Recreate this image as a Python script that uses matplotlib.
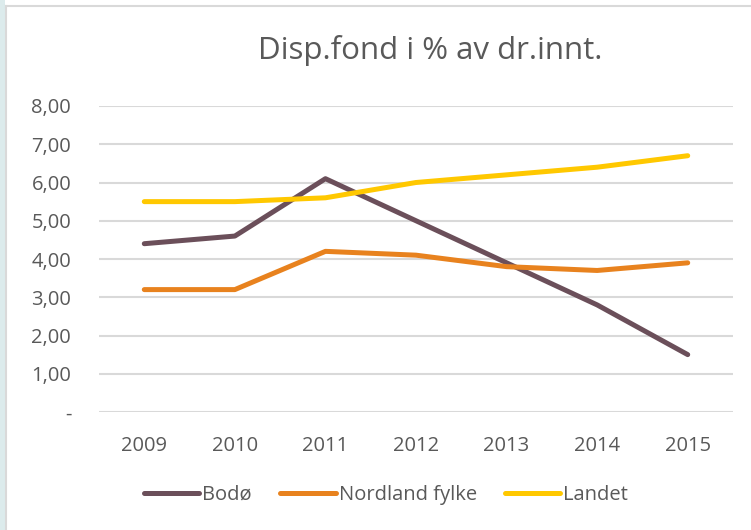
import matplotlib.pyplot as plt
from matplotlib.lines import Line2D
from matplotlib.patches import Rectangle

years = ['2009', '2010', '2011', '2012', '2013', '2014', '2015']
bodo = [4.4, 4.6, 6.1, 5.0, 3.9, 2.8, 1.5]
nordland = [3.2, 3.2, 4.2, 4.1, 3.8, 3.7, 3.9]
landet = [5.5, 5.5, 5.6, 6.0, 6.2, 6.4, 6.7]
yticks = [0, 1, 2, 3, 4, 5, 6, 7, 8]
ylabels = ['-', '1,00', '2,00', '3,00', '4,00', '5,00', '6,00', '7,00', '8,00']

plt.rcParams['font.family'] = ['Open Sans', 'DejaVu Sans']
txt = '#595959'

fig = plt.figure(figsize=(7.51, 5.30), dpi=100)
# light blue strip and frame on the left/top
fig.patches.append(Rectangle((0, 0), 5 / 751, 1, transform=fig.transFigure,
                             facecolor='#DCEBEC', edgecolor='none'))
fig.lines.append(Line2D([6 / 751, 6 / 751], [0, 1 - 6 / 530], transform=fig.transFigure,
                        color='#D9D9D9', lw=1.5))
fig.lines.append(Line2D([6 / 751, 1], [1 - 6 / 530, 1 - 6 / 530], transform=fig.transFigure,
                        color='#D9D9D9', lw=1.5))

ax = fig.add_axes([99 / 751, 1 - 412 / 530, 634 / 751, 306 / 530])
x = range(len(years))
ax.plot(x, bodo, color='#6B4F5A', lw=3.6, solid_capstyle='round', solid_joinstyle='round', label='Bodø')
ax.plot(x, nordland, color='#E8821E', lw=3.6, solid_capstyle='round', solid_joinstyle='round', label='Nordland fylke')
ax.plot(x, landet, color='#FFC800', lw=3.6, solid_capstyle='round', solid_joinstyle='round', label='Landet')

ax.set_xlim(-0.5, len(years) - 0.5)
ax.set_ylim(0, 8)
ax.set_xticks(list(x))
ax.set_xticklabels(years)
ax.set_yticks(yticks)
ax.set_yticklabels(ylabels)
ax.yaxis.grid(True, color='#D9D9D9', lw=1.5)
ax.set_axisbelow(True)
for s in ax.spines.values():
    s.set_visible(False)
ax.tick_params(length=0, colors=txt, labelsize=14.5)
ax.tick_params(axis='y', pad=20)
ax.tick_params(axis='x', pad=17)

fig.text(0.573, 1 - 51 / 530, 'Disp.fond i % av dr.innt.', ha='center', va='center',
         fontsize=22.5, color=txt)

leg = fig.legend(loc='center', bbox_to_anchor=(0.514, 1 - 495 / 530), ncol=3, frameon=False,
                 fontsize=14.5, handlelength=2.75, handletextpad=0.15, columnspacing=1.4)
for t in leg.get_texts():
    t.set_color(txt)

fig.savefig('out.png', dpi=100)
